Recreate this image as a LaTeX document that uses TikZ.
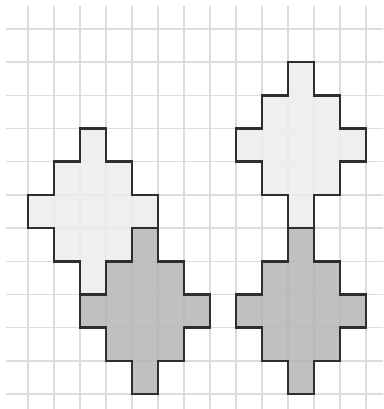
\documentclass[tikz,border=0pt]{standalone}
\definecolor{gridc}{HTML}{DCDCDC}
\definecolor{lightc}{HTML}{EDEDED}
\definecolor{darkc}{HTML}{B5B5B5}
\definecolor{edgec}{HTML}{2E2E2E}
\tikzset{
  gridline/.style={draw=gridc, line width=1.4pt},
  polylight/.style={fill=lightc, fill opacity=0.85, draw=edgec, line width=2.6pt, line join=miter},
  polydark/.style={fill=darkc, fill opacity=0.85, draw=edgec, line width=2.6pt, line join=miter},
}
\newcommand\diampoly[3]{%
  \path[#3] (#1,#2-2) -- ++(1,0) -- ++(0,1) -- ++(1,0) -- ++(0,1) -- ++(1,0)
    -- ++(0,1) -- ++(-1,0) -- ++(0,1) -- ++(-1,0) -- ++(0,1) -- ++(-1,0)
    -- ++(0,-1) -- ++(-1,0) -- ++(0,-1) -- ++(-1,0) -- ++(0,-1) -- ++(1,0)
    -- ++(0,-1) -- ++(1,0) -- cycle;}
\begin{document}
\begin{tikzpicture}
\fill[white] (0,0) rectangle (383pt,409pt);
\useasboundingbox (0,0) rectangle (383pt,409pt);
\begin{scope}
\clip (6pt,0pt) rectangle (383pt,402pt);
\begin{scope}[shift={(28pt,380pt)}, x={(26pt,0pt)}, y={(0pt,-33.2pt)}]
  \foreach \i in {0,...,13} \draw[gridline] (\i,-1) -- (\i,12);
  \foreach \j in {0,...,11} \draw[gridline] (-1,\j) -- (14,\j);
  \diampoly{2}{5}{polylight}
  \diampoly{10}{3}{polylight}
  \diampoly{4}{8}{polydark}
  \diampoly{10}{8}{polydark}
\end{scope}
\end{scope}
\end{tikzpicture}
\end{document}
